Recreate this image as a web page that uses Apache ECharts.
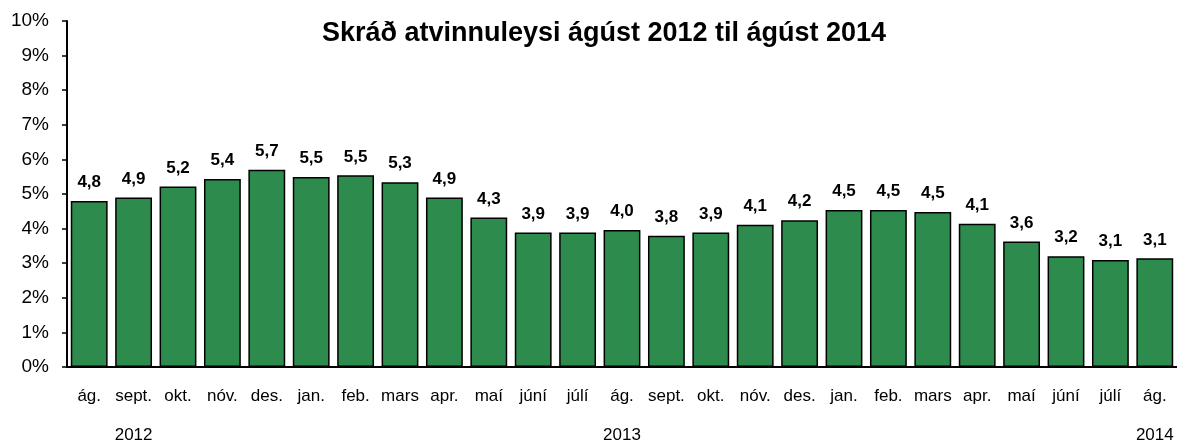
<!DOCTYPE html>
<html>
<head>
<meta charset="utf-8">
<script src="https://cdn.jsdelivr.net/npm/echarts@6/dist/echarts.min.js"></script>
<style>
html, body { margin: 0; padding: 0; background: #fff; }
#chart { width: 1177px; height: 441px; }
</style>
</head>
<body>
<div id="chart"></div>
<script>
/**
 * Skráð atvinnuleysi - gögn
 * **/
var months = ['ág.', 'sept.', 'okt.', 'nóv.', 'des.', 'jan.', 'feb.', 'mars', 'apr.', 'maí', 'júní', 'júlí',
	'ág.', 'sept.', 'okt.', 'nóv.', 'des.', 'jan.', 'feb.', 'mars', 'apr.', 'maí', 'júní', 'júlí', 'ág.'];
var years = ['', '2012', '', '', '', '', '', '', '', '', '', '', '2013', '', '', '', '', '', '', '', '', '', '', '', '2014'];
var rates = [4.8, 4.9, 5.22, 5.43, 5.7, 5.49, 5.54, 5.34, 4.9, 4.32, 3.89, 3.89, 3.96, 3.79, 3.89, 4.11, 4.24,
	4.54, 4.54, 4.48, 4.14, 3.63, 3.2, 3.09, 3.14];
var yTicks = [0, 1, 2, 3, 4, 5, 6, 7, 8, 9, 10];

var myChart = echarts.init(document.getElementById('chart'));
var font = 'Liberation Sans, Arial, sans-serif';
var option = {
	backgroundColor: '#fff',
	animation: false,
	title: {
		text: 'Skráð atvinnuleysi ágúst 2012 til ágúst 2014',
		left: 599,
		textAlign: 'center',
		top: 15,
		textStyle: {
			fontFamily: font,
			fontSize: 27,
			fontWeight: 'bold',
			color: '#000'
		}
	},
	grid: {
		left: 67,
		right: 0,
		top: 21,
		bottom: 74,
		outerBoundsMode: 'none'
	},
	xAxis: [{
		type: 'category',
		data: months,
		axisLine: {
			lineStyle: { color: '#000', width: 2 }
		},
		axisTick: {
			alignWithLabel: false,
			length: 6,
			lineStyle: { color: '#000', width: 1.5 }
		},
		axisLabel: {
			interval: 0,
			margin: 21,
			fontFamily: font,
			fontSize: 17,
			color: '#000'
		}
	}, {
		type: 'category',
		position: 'bottom',
		data: years,
		offset: 38,
		axisLine: { show: false },
		axisTick: { show: false },
		axisLabel: {
			interval: 0,
			margin: 22,
			fontFamily: font,
			fontSize: 17,
			color: '#000'
		}
	}],
	yAxis: {
		type: 'value',
		min: yTicks[0],
		max: yTicks[yTicks.length - 1],
		interval: 1,
		splitLine: { show: false },
		axisLine: {
			show: true,
			lineStyle: { color: '#000', width: 2 }
		},
		axisTick: {
			show: true,
			length: 5,
			lineStyle: { color: '#000', width: 1.5 }
		},
		axisLabel: {
			margin: 18,
			fontFamily: font,
			fontSize: 19,
			color: '#000',
			formatter: '{value}%'
		}
	},
	series: [{
		name: 'Atvinnuleysi',
		type: 'bar',
		xAxisIndex: 0,
		data: rates,
		barCategoryGap: '17%',
		itemStyle: {
			color: '#2e8b4e',
			borderColor: '#000',
			borderWidth: 1.5
		},
		label: {
			show: true,
			position: 'top',
			distance: 10,
			fontFamily: font,
			fontSize: 17,
			fontWeight: 'bold',
			color: '#000',
			formatter: function(p) {
				return p.value.toFixed(1).replace('.', ',');
			}
		}
	}]
};
myChart.setOption(option);
</script>
</body>
</html>
